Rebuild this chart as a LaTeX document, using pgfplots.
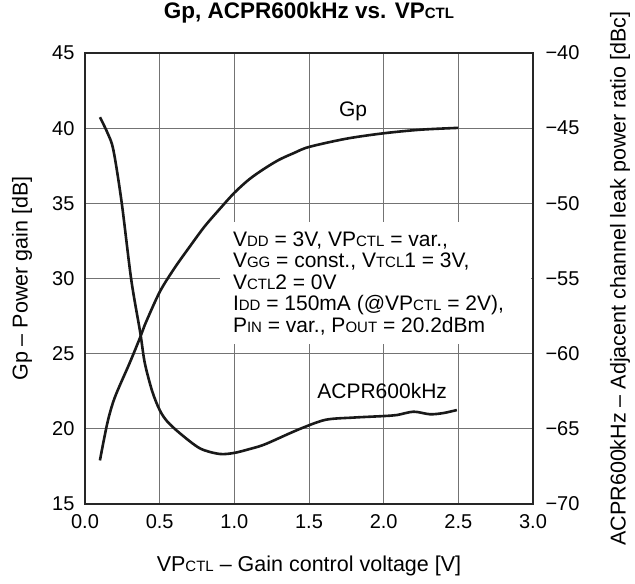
\documentclass[border=0pt]{standalone}
\usepackage{fontspec}
\setmainfont{Liberation Sans}
\usepackage{pgfplots}
\pgfplotsset{compat=1.18}
\newcommand{\sub}[1]{{\fontsize{15}{15}\selectfont #1}}
\newcommand{\fs}{\fontsize{20}{21}\selectfont}
\newcommand{\fb}{\fontsize{21}{21.5}\selectfont}
\newcommand{\fl}{\fontsize{21.5}{22}\selectfont}

\begin{document}
\begin{tikzpicture}
\pgfplotsset{
  chart/.style={
    scale only axis, width=448pt, height=451pt,
    xmin=0, xmax=3,
    major tick length=0pt,
    axis line style={line width=1.4pt, black!85},
    tick label style={font=\fs},
  }
}
% left axis: Gp
\begin{axis}[chart, name=ax,
  ymin=15, ymax=45,
  xtick={0,0.5,1,1.5,2,2.5,3},
  xticklabels={0.0,0.5,1.0,1.5,2.0,2.5,3.0},
  ytick={15,20,25,30,35,40,45},
  yticklabels={15,20,25,30,35,40,45},
  xticklabel style={yshift=-7pt},
  yticklabel style={xshift=-7pt},
  grid=major,
  major grid style={black!55, line width=0.8pt},
  title={\bfseries Gp, ACPR600kHz vs. VP\sub{CTL}},
  title style={font=\fontsize{22.5}{23}\selectfont, at={(axis description cs:0.5,1)}, anchor=center, yshift=34pt},
  xlabel={VP\sub{CTL} -- Gain control voltage [V]},
  every axis x label/.style={font=\fl, at={(axis description cs:0.5,0)}, anchor=center, yshift=-62pt},
  ylabel={Gp -- Power gain [dB]},
  every axis y label/.style={font=\fl, at={(axis description cs:-0.1406,0.5)}, anchor=center, rotate=90},
]
\fill[white] (axis cs:0.904,25.65) rectangle (axis cs:2.985,33.76);
\addplot[smooth, line width=2.6pt, black!90] coordinates {
  (0.10,17.9) (0.15,20.4) (0.20,22.1) (0.30,24.4) (0.37,26.1) (0.40,26.9)
  (0.50,29.1) (0.60,30.7) (0.70,32.1) (0.80,33.45) (0.90,34.6) (1.00,35.7)
  (1.10,36.6) (1.20,37.3) (1.30,37.9) (1.40,38.35) (1.50,38.75) (1.75,39.3)
  (2.00,39.66) (2.25,39.9) (2.50,40.02)
};
\node[font=\fb] at (axis cs:1.795,41.1) {Gp};
\node[font=\fb] at (axis cs:1.99,22.54) {ACPR600kHz};
\node[font=\fb, anchor=north west, inner sep=0pt, align=left] at (axis cs:0.99,33.15)
  {V\sub{DD} = 3V, VP\sub{CTL} = var.,\\
   V\sub{GG} = const., V\sub{TCL}1 = 3V,\\
   V\sub{CTL}2 = 0V\\
   I\sub{DD} = 150mA (@VP\sub{CTL} = 2V),\\
   P\sub{IN} = var., P\sub{OUT} = 20.2dBm};
\end{axis}
% right axis: ACPR
\begin{axis}[chart,
  ymin=-70, ymax=-40,
  axis x line=none, axis y line*=right,
  ytick={-70,-65,-60,-55,-50,-45,-40},
  yticklabels={−70,−65,−60,−55,−50,−45,−40},
  yticklabel style={xshift=9pt},
  ylabel={ACPR600kHz -- Adjacent channel leak power ratio [dBc]},
  every axis y label/.style={font=\fl, at={(axis description cs:1.1942,0.5)}, anchor=center, rotate=90},
]
\addplot[smooth, line width=2.6pt, black!90] coordinates {
  (0.10,-44.27) (0.15,-45.3) (0.19,-46.45) (0.245,-49.9) (0.31,-55.1)
  (0.37,-58.6) (0.40,-60.6) (0.45,-62.5) (0.50,-63.75) (0.55,-64.5)
  (0.636,-65.3) (0.77,-66.3) (0.90,-66.67) (1.00,-66.6) (1.10,-66.35)
  (1.20,-66.05) (1.37,-65.3) (1.44,-65.0) (1.61,-64.4) (1.80,-64.25)
  (2.00,-64.15) (2.09,-64.08) (2.20,-63.86) (2.31,-64.03) (2.40,-63.95)
  (2.49,-63.75)
};
\end{axis}
\pgfresetboundingbox
\path[use as bounding box] ([xshift=-85pt,yshift=-80pt]ax.south west)
  rectangle ([xshift=102pt,yshift=53pt]ax.north east);
\end{tikzpicture}
\end{document}
